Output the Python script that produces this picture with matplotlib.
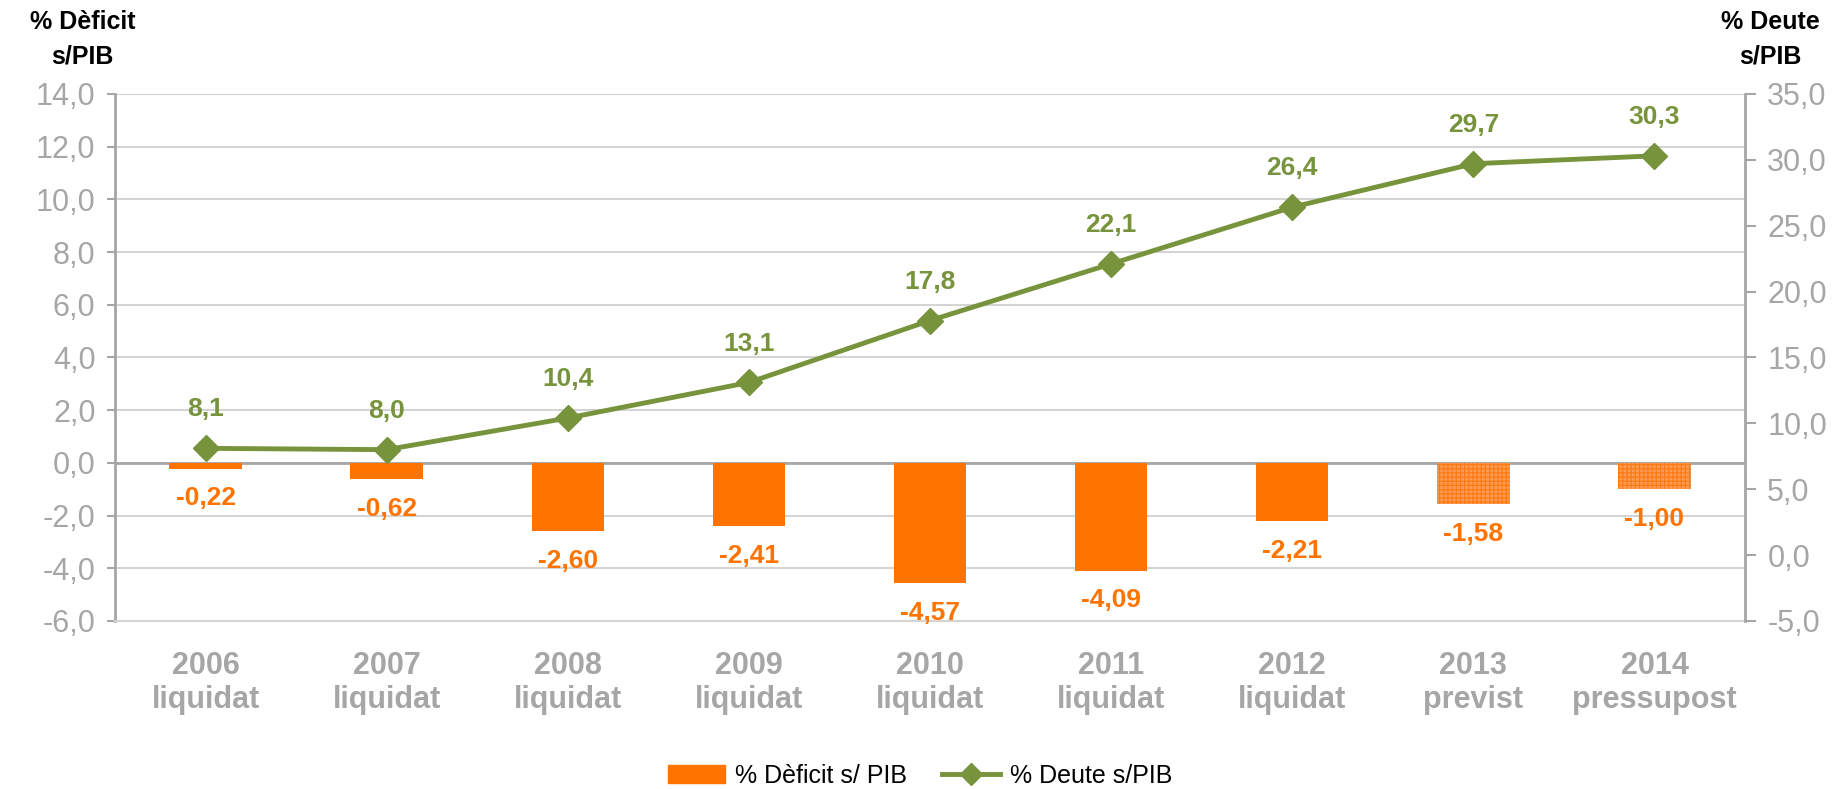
import matplotlib.pyplot as plt
from matplotlib.lines import Line2D
from matplotlib.patches import Patch

plt.rcParams['font.family'] = ['Liberation Sans', 'DejaVu Sans']
plt.rcParams['hatch.linewidth'] = 0.8

categories = ['2006\nliquidat', '2007\nliquidat', '2008\nliquidat', '2009\nliquidat',
              '2010\nliquidat', '2011\nliquidat', '2012\nliquidat', '2013\nprevist',
              '2014\npressupost']
deficit = [-0.22, -0.62, -2.60, -2.41, -4.57, -4.09, -2.21, -1.58, -1.00]
deute = [8.1, 8.0, 10.4, 13.1, 17.8, 22.1, 26.4, 29.7, 30.3]
forecast = [False] * 7 + [True, True]

orange = '#ff7300'
green = '#77933c'
grey = '#a6a6a6'
tick_grey = '#a6a6a6'

fig = plt.figure(figsize=(18.4, 7.89), dpi=100)
ax = fig.add_axes([0.0625, 0.213, 0.8859, 0.668])
ax2 = ax.twinx()

x = list(range(len(categories)))

for i, v in enumerate(deficit):
    if forecast[i]:
        ax.bar(i, v, width=0.4, color='#fb9a55', edgecolor='#ff7a10',
               hatch='++++', linewidth=0, zorder=2)
    else:
        ax.bar(i, v, width=0.4, color=orange, linewidth=0, zorder=2)
    ax.text(i, v - 1.12, f'{v:.2f}'.replace('.', ','), ha='center', va='center',
            color=orange, fontsize=19, fontweight='bold')

ax.set_xlim(-0.5, len(categories) - 0.5)
ax.set_ylim(-6, 14)
ax.set_yticks(range(-6, 15, 2))
ax.set_yticklabels([f'{v:.1f}'.replace('.', ',') for v in range(-6, 15, 2)])
ax.yaxis.grid(True, color='#d4d4d4', linewidth=1.5, zorder=0)
ax.set_axisbelow(True)
ax.axhline(0, color=grey, linewidth=2, zorder=1)
ax.set_xticks(x)
ax.set_xticklabels(categories, fontsize=22, fontweight='bold', color=tick_grey,
                   linespacing=1.15)
ax.tick_params(axis='x', length=0, pad=22)
ax.tick_params(axis='y', labelsize=22, labelcolor=tick_grey, color=grey,
               length=6, width=1.5, pad=8)

ax2.plot(x, deute, color=green, linewidth=3.5, marker='D', markersize=13, zorder=3)
for i, v in enumerate(deute):
    ax2.text(i, v + 2.95, f'{v:.1f}'.replace('.', ','), ha='center', va='center',
             color=green, fontsize=19, fontweight='bold')
ax2.set_ylim(-5, 35)
ax2.set_yticks(range(-5, 36, 5))
ax2.set_yticklabels([f'{v:.1f}'.replace('.', ',') for v in range(-5, 36, 5)])
ax2.tick_params(axis='y', labelsize=22, labelcolor=tick_grey, color=grey,
                length=8, width=1.5, pad=8)

for a in (ax, ax2):
    for side in ('top', 'bottom', 'left', 'right'):
        a.spines[side].set_visible(False)
ax.spines['left'].set_visible(True)
ax.spines['left'].set_color(grey)
ax.spines['left'].set_linewidth(2)
ax.spines['bottom'].set_visible(True)
ax.spines['bottom'].set_color('#d4d4d4')
ax.spines['bottom'].set_linewidth(1.5)
ax2.spines['right'].set_visible(True)
ax2.spines['right'].set_color(grey)
ax2.spines['right'].set_linewidth(2)

fig.text(0.045, 0.987, '% Dèficit\ns/PIB', ha='center', va='top', fontsize=18,
         fontweight='bold', linespacing=1.55)
fig.text(0.962, 0.987, '% Deute\ns/PIB', ha='center', va='top', fontsize=18,
         fontweight='bold', linespacing=1.55)

handles = [Patch(color=orange, label='% Dèficit s/ PIB'),
           Line2D([], [], color=green, linewidth=3.5, marker='D', markersize=11,
                  label='% Deute s/PIB')]
fig.legend(handles=handles, loc='center', bbox_to_anchor=(0.5, 0.017), ncol=2,
           frameon=False, fontsize=18, handlelength=2.3, handletextpad=0.4,
           columnspacing=1.4)

fig.savefig('out.png', dpi=100)
